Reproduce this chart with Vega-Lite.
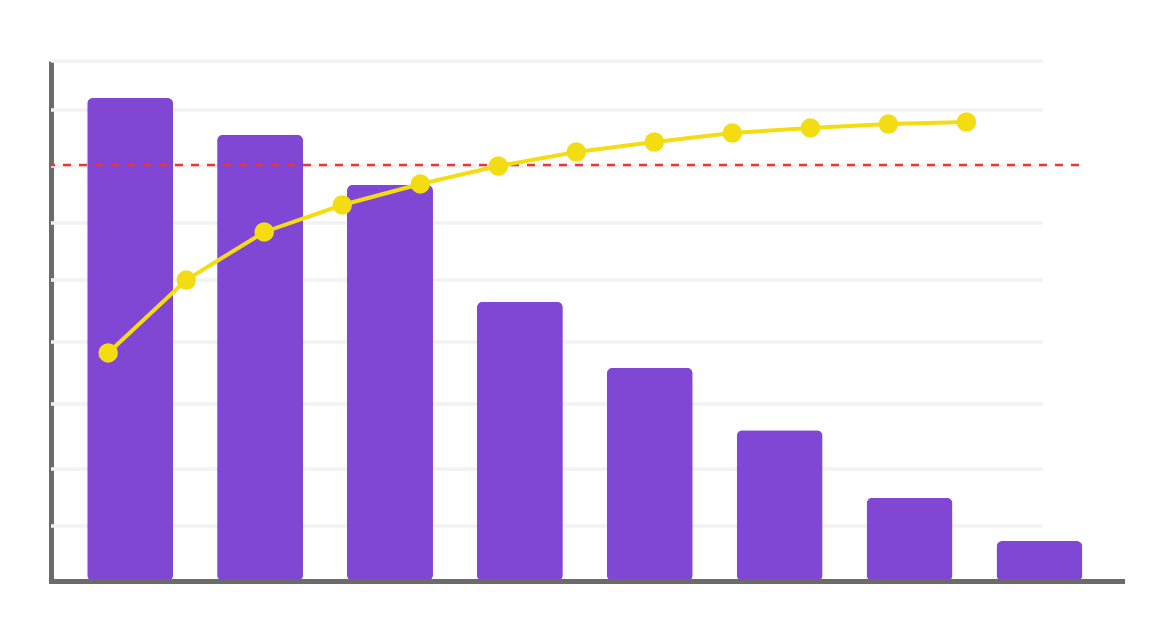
{
  "$schema": "https://vega.github.io/schema/vega-lite/v6.json",
  "width": 1071,
  "height": 520,
  "autosize": {"type": "none"},
  "padding": {"left": 51, "top": 61, "right": 50, "bottom": 63},
  "background": "white",
  "config": {
    "view": {"stroke": null},
    "axisY": {
      "domain": true,
      "domainColor": "#6b6b6b",
      "domainWidth": 5,
      "domainCap": "butt",
      "labels": false,
      "ticks": false,
      "grid": false,
      "zindex": 1
    }
  },
  "datasets": {
    "bars": [
      {"category": "C1", "value": 92.9},
      {"category": "C2", "value": 85.8},
      {"category": "C3", "value": 76.2},
      {"category": "C4", "value": 53.7},
      {"category": "C5", "value": 41.0},
      {"category": "C6", "value": 29.0},
      {"category": "C7", "value": 16.0},
      {"category": "C8", "value": 7.7}
    ],
    "cumulative": [
      {"step": 1, "percent": 43.85},
      {"step": 2, "percent": 57.88},
      {"step": 3, "percent": 67.12},
      {"step": 4, "percent": 72.31},
      {"step": 5, "percent": 76.35},
      {"step": 6, "percent": 79.81},
      {"step": 7, "percent": 82.5},
      {"step": 8, "percent": 84.42},
      {"step": 9, "percent": 86.15},
      {"step": 10, "percent": 87.12},
      {"step": 11, "percent": 87.88},
      {"step": 12, "percent": 88.27}
    ],
    "grid": [
      {"level": 10.58},
      {"level": 21.54},
      {"level": 34.04},
      {"level": 45.96},
      {"level": 57.88},
      {"level": 68.85},
      {"level": 79.81},
      {"level": 90.58},
      {"level": 100}
    ],
    "target": [{"level": 80}]
  },
  "layer": [
    {
      "data": {"name": "grid"},
      "mark": {"type": "rule", "color": "#f2f2f2", "strokeWidth": 3.5},
      "encoding": {
        "y": {"field": "level", "type": "quantitative", "scale": {"domain": [0, 100], "nice": false}, "title": null},
        "x": {"datum": 0.2669, "type": "quantitative", "scale": {"domain": [0.2669, 13.994], "nice": false, "zero": false}, "axis": null},
        "x2": {"datum": 12.981}
      }
    },
    {
      "data": {"name": "bars"},
      "mark": {"type": "bar", "color": "#8047d4", "cornerRadius": 6},
      "encoding": {
        "x": {
          "field": "category",
          "type": "nominal",
          "sort": null,
          "scale": {"paddingInner": 0.338, "paddingOuter": 0.2915, "align": 0.478},
          "axis": {"domain": true, "domainColor": "#6b6b6b", "domainWidth": 5, "domainCap": "square", "labels": false, "ticks": false, "grid": false, "title": null, "zindex": 1}
        },
        "y": {"field": "value", "type": "quantitative", "title": null}
      }
    },
    {
      "data": {"name": "target"},
      "mark": {"type": "rule", "color": "#e8363b", "strokeWidth": 2.5, "strokeDash": [8, 8], "strokeDashOffset": 4},
      "encoding": {
        "y": {"field": "level", "type": "quantitative", "title": null},
        "x": {"datum": 0.2669, "type": "quantitative", "scale": {"domain": [0.2669, 13.994], "nice": false, "zero": false}, "axis": null},
        "x2": {"datum": 13.456}
      }
    },
    {
      "data": {"name": "cumulative"},
      "encoding": {
        "x": {"field": "step", "type": "quantitative", "scale": {"domain": [0.2669, 13.994], "nice": false, "zero": false}, "axis": null},
        "y": {"field": "percent", "type": "quantitative", "title": null}
      },
      "layer": [
        {"mark": {"type": "line", "color": "#f3dc11", "strokeWidth": 4}},
        {"mark": {"type": "circle", "color": "#f3dc11", "size": 380, "opacity": 1}}
      ]
    }
  ],
  "resolve": {"scale": {"x": "independent"}}
}
